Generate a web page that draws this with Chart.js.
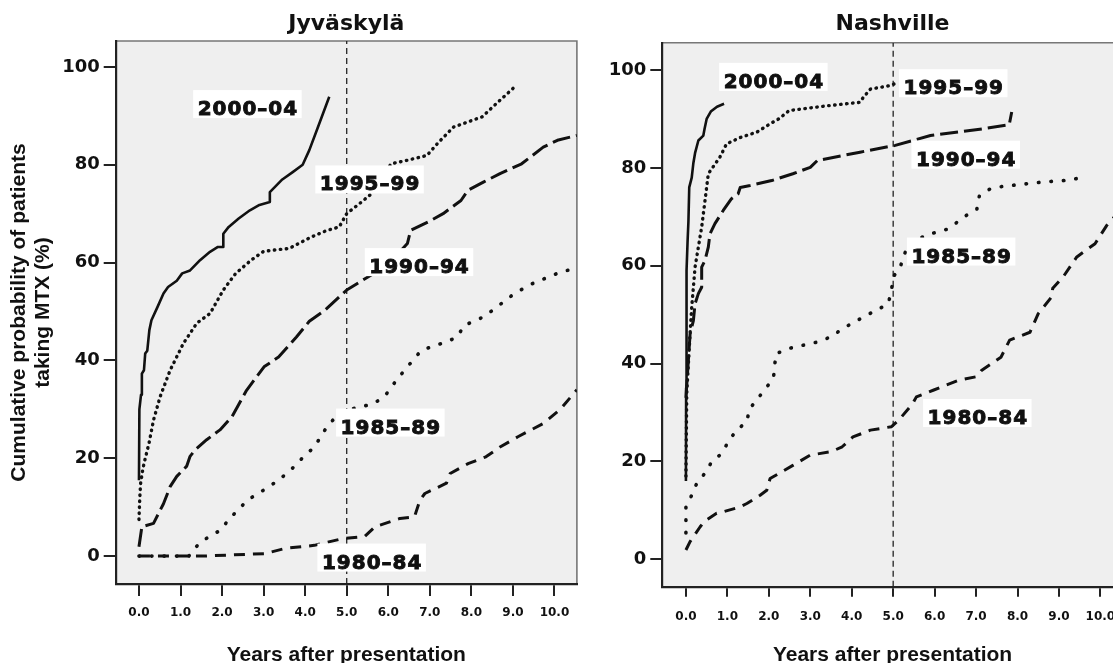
<!DOCTYPE html>
<html>
<head>
<meta charset="utf-8">
<title>Cumulative probability of patients taking MTX</title>
<script src="https://cdn.jsdelivr.net/npm/chart.js@4.4.1/dist/chart.umd.min.js"></script>
<style>
  html, body { margin: 0; padding: 0; overflow: hidden; background: #fff; }
  #wrap { position: relative; width: 1113px; height: 663px; overflow: hidden; }
  #left { position: absolute; left: 0; top: 0; }
  #right { position: absolute; left: 600px; top: 0; }
</style>
</head>
<body>
<div id="wrap">
  <canvas id="left" width="590" height="663"></canvas>
  <canvas id="right" width="530" height="663"></canvas>
</div>
<script>
// tick values
const xTicks = [0, 1, 2, 3, 4, 5, 6, 7, 8, 9, 10];
const yTicks = [0, 20, 40, 60, 80, 100];
const refX = 5;

const cohorts = ['2000–04', '1995–99', '1990–94', '1985–89', '1980–84'];

// Jyväskylä curves, [years, %]
const jyv2000 = [[0,15.5],[0.01,30],[0.05,33],[0.07,37.3],[0.12,38],[0.15,41.4],[0.2,42],[0.25,46.2],[0.3,48.2],
  [0.45,51],[0.59,53.7],[0.7,55],[0.91,56.3],[1.04,57.8],[1.23,58.4],[1.47,60.5],[1.71,62.2],[1.9,63.2],[2.03,63.2],
  [2.03,65.9],[2.16,67.3],[2.4,69],[2.67,70.7],[2.9,71.8],[3.15,72.4],[3.15,74.4],[3.45,77],[3.7,78.5],[3.94,80],
  [4.1,83],[4.3,87.5],[4.58,93.9]];
const jyv1995 = [[0,7.5],[0.02,12],[0.04,14.9],[0.09,17.6],[0.12,18.9],[0.24,23],[0.35,27.8],[0.51,32.6],[0.75,38],
  [1.07,43.5],[1.39,47.6],[1.71,49.6],[2.03,54.4],[2.33,57.8],[2.7,60.5],[3.0,62.3],[3.19,62.5],[3.62,62.9],[4.14,65.2],
  [4.5,66.5],[4.82,67.3],[5.0,70],[5.3,72],[5.6,74.1],[5.85,77.5],[6.07,80.2],[6.5,81],[6.93,81.9],[7.2,84.5],
  [7.57,87.7],[8.26,89.8],[8.6,92.5],[9.04,95.9]];
const jyv1990 = [[0,1.9],[0.07,6],[0.35,6.7],[0.47,8.7],[0.59,10.7],[0.75,14.2],[0.91,16.3],[1.15,18.4],[1.23,20.4],
  [1.35,21.7],[1.63,23.8],[1.95,25.8],[2.24,28.5],[2.59,33.9],[3.01,38.7],[3.36,40.7],[3.79,44.8],[4.1,48],[4.48,50.3],
  [5.0,54.4],[5.4,56.5],[5.77,58.4],[6.2,61.5],[6.46,63.9],[6.54,66.6],[7.0,68.5],[7.32,70],[7.75,72.7],[7.92,74.8],
  [8.3,76.5],[8.69,78.2],[9.21,80.2],[9.73,83.6],[10.07,85],[10.54,86]];
const jyv1985 = [[0,0],[1.2,0],[1.3,1.2],[1.5,3],[1.8,4.5],[2.0,5.5],[2.15,7.5],[2.4,9.5],[2.6,11.4],[3.0,13.5],
  [3.36,15.5],[3.7,18],[3.96,20.3],[4.22,22.3],[4.52,26.4],[4.74,28.5],[4.9,29.5],[5.3,30.5],[5.6,31],[5.9,32.5],
  [6.2,36],[6.46,38.7],[6.8,42.1],[7.4,43.8],[7.66,44.8],[7.83,47.2],[8.2,48.5],[8.52,50.3],[9.04,53.7],[9.47,55.7],
  [10.07,57.8],[10.54,59]];
const jyv1980 = [[0,0],[1.5,0],[3.02,0.5],[3.53,1.6],[4.22,2.2],[4.91,3.6],[5.43,4],[5.68,6],[6.28,7.7],[6.63,8],
  [6.76,11.4],[6.88,12.8],[7.4,14.9],[7.49,16.9],[7.92,18.9],[8.35,20.3],[8.69,22.3],[9.12,24.4],[9.73,27.1],
  [10.14,30],[10.54,34]];

// Nashville curves, [years, %]
const nas2000 = [[0,16],[0.005,35],[0.01,47],[0.02,59],[0.04,65],[0.06,69],[0.08,76],[0.14,78],[0.18,81],[0.22,83],
  [0.3,85.6],[0.42,86.6],[0.45,88],[0.5,90],[0.6,91.5],[0.75,92.5],[0.92,93.1]];
const nas1995 = [[0,17],[0.02,34],[0.1,46.1],[0.14,51.6],[0.18,55.6],[0.22,59.7],[0.3,63.8],[0.38,67.9],[0.46,73.3],
  [0.54,78.8],[0.82,82.2],[0.98,84.9],[1.31,86.2],[1.71,87.3],[2.03,89],[2.24,90],[2.49,91.7],[3.43,92.7],[4.2,93.4],
  [4.28,94.4],[4.45,96.1],[4.92,96.8],[5.13,97.5]];
const nas1990 = [[0,33],[0.1,46],[0.18,48.8],[0.22,52.2],[0.3,54.3],[0.38,55.6],[0.38,59.7],[0.46,61.1],[0.54,63.8],
  [0.58,66.5],[0.7,68.6],[0.9,71.3],[1.1,73.7],[1.26,74.7],[1.31,76],[1.55,76.4],[2.07,77.4],[2.58,78.8],[3.0,80.1],
  [3.17,81.5],[4.2,83.2],[5.05,84.6],[5.9,86.6],[7.17,88],[7.8,88.8],[7.86,91.4]];
const nas1985 = [[0,5.4],[0,10.7],[0.14,13.1],[0.26,15.5],[0.46,17.6],[0.62,19.9],[0.86,21.6],[1.02,24],[1.22,26.4],
  [1.47,28.1],[1.53,30.7],[1.72,32.7],[1.92,34.9],[2.11,36.9],[2.17,42],[2.49,43.1],[3.17,44.4],[3.51,45.5],[3.77,47.1],
  [4.28,49.5],[4.88,52.2],[4.96,55],[5.0,57.7],[5.17,59.7],[5.26,62.1],[5.39,64.8],[5.9,66.5],[6.32,67.5],[6.77,70.3],
  [7.02,71.6],[7.08,74.3],[7.34,75.7],[7.63,76.2],[8.6,77.1],[9.27,77.5],[9.62,78.2]];
const nas1980 = [[0,1.9],[0.1,3.6],[0.34,6.6],[0.44,7.7],[0.74,9.4],[0.9,9.7],[1.3,10.7],[1.47,11.4],[1.79,13.1],
  [1.95,14.1],[2.03,16.5],[2.58,19.2],[3.0,21.3],[3.51,22],[3.77,23],[4.03,25],[4.45,26.4],[4.96,27.1],[5.13,28.4],
  [5.47,31.8],[5.56,33.2],[5.98,34.6],[6.58,36.6],[7.0,37.3],[7.13,38.6],[7.6,41.3],[7.81,44.8],[8.3,46.4],[8.5,50.2],
  [8.82,53.6],[8.85,55.4],[9.1,57.7],[9.43,61.8],[9.87,64.5],[10.15,68.2],[10.3,69.6],[10.54,72]];

// where the cohort labels sit (data units, box centre)
const jyvLabelAt = [[2.61,92.4],[5.55,77.0],[6.74,60.1],[6.05,27.3],[5.6,-0.3]];
const nasLabelAt = [[2.11,98.6],[6.45,97.3],[6.75,82.7],[6.64,62.9],[7.03,29.9]];

// line look per cohort
const lineLook = [
  { dash: [], width: 2.6, cap: 'butt' },
  { dash: [0.5, 5.5], width: 3.4, cap: 'round' },
  { dash: [18, 6], width: 3, cap: 'butt' },
  { dash: [0.5, 12], width: 3.6, cap: 'round' },
  { dash: [11, 8], width: 3, cap: 'butt' }
];

const INK = '#111';

const panelDecor = {
  id: 'panelDecor',
  beforeDraw(chart) {
    const { ctx, chartArea: a } = chart;
    ctx.save();
    ctx.fillStyle = '#efefef';
    ctx.fillRect(a.left, a.top, a.right - a.left, a.bottom - a.top);
    ctx.strokeStyle = '#777';
    ctx.lineWidth = 1.6;
    ctx.beginPath();
    ctx.moveTo(a.left, a.top);
    ctx.lineTo(a.right, a.top);
    ctx.lineTo(a.right, a.bottom);
    ctx.stroke();
    ctx.restore();
  },
  afterDatasetsDraw(chart, args, opts) {
    const { ctx, scales: { x, y } } = chart;
    ctx.save();
    ctx.font = 'bold 20px "DejaVu Sans"';
    ctx.letterSpacing = '1px';
    ctx.textAlign = 'center';
    ctx.textBaseline = 'alphabetic';
    opts.labels.forEach(l => {
      const cx = x.getPixelForValue(l.x);
      const cy = y.getPixelForValue(l.y);
      const w = ctx.measureText(l.text).width + 8;
      ctx.fillStyle = '#fff';
      ctx.fillRect(cx - w / 2, cy - 14, w, 28);
      ctx.fillStyle = INK;
      ctx.strokeStyle = INK;
      ctx.lineWidth = 0.9;
      ctx.fillText(l.text, cx + 0.5, cy + 11);
      ctx.strokeText(l.text, cx + 0.5, cy + 11);
    });
    ctx.restore();
  }
};

function toPoints(pairs) {
  return pairs.map(p => ({ x: p[0], y: p[1] }));
}

function buildPanel(canvasId, title, curves, labelAt, g) {
  const datasets = curves.map((c, i) => ({
    label: cohorts[i],
    data: toPoints(c),
    borderColor: INK,
    borderWidth: lineLook[i].width,
    borderDash: lineLook[i].dash,
    borderCapStyle: lineLook[i].cap,
    borderJoinStyle: 'round',
    pointRadius: 0,
    tension: 0,
    fill: false
  }));
  // dashed reference line at 5 years
  datasets.push({
    label: 'ref',
    data: [{ x: refX, y: g.yMin }, { x: refX, y: g.yMax }],
    borderColor: '#222',
    borderWidth: 1.3,
    borderDash: [6, 4],
    pointRadius: 0,
    fill: false
  });

  const labels = labelAt.map((p, i) => ({ text: cohorts[i], x: p[0], y: p[1] }));

  return new Chart(document.getElementById(canvasId), {
    type: 'line',
    data: { datasets },
    plugins: [panelDecor],
    options: {
      responsive: false,
      animation: false,
      layout: { padding: { left: 0, right: g.padRight, top: 0, bottom: 0 } },
      plugins: {
        legend: { display: false },
        tooltip: { enabled: false },
        title: {
          display: true,
          text: title,
          fullSize: false,
          color: INK,
          font: { family: 'DejaVu Sans', size: 22, weight: 'bold', lineHeight: 1.2 },
          padding: { top: g.titleTop, bottom: g.titleBottom }
        },
        panelDecor: { labels }
      },
      scales: {
        x: {
          type: 'linear',
          min: g.xMin,
          max: g.xMax,
          afterBuildTicks: s => { s.ticks = xTicks.map(v => ({ value: v })); },
          afterFit: s => { s.height = g.xHeight; },
          ticks: {
            autoSkip: false,
            maxRotation: 0,
            padding: g.xTickPad,
            color: INK,
            font: { family: 'DejaVu Sans', size: 12, weight: 'bold' },
            callback: v => v.toFixed(1)
          },
          grid: { drawOnChartArea: false, tickLength: g.xTickLen, color: '#222', lineWidth: 2 },
          border: { color: '#222', width: 2.2 },
          title: {
            display: true,
            text: 'Years after presentation',
            color: INK,
            font: { family: 'Liberation Sans', size: 21, weight: 'bold', lineHeight: 0.7 },
            padding: 0
          }
        },
        y: {
          type: 'linear',
          min: g.yMin,
          max: g.yMax,
          afterBuildTicks: s => { s.ticks = yTicks.map(v => ({ value: v })); },
          afterFit: s => { s.width = g.yWidth; },
          ticks: {
            padding: 4,
            color: INK,
            font: { family: 'DejaVu Sans', size: 18, weight: 'bold' },
            callback: v => String(v)
          },
          grid: { drawOnChartArea: false, tickLength: 12, color: '#222', lineWidth: 2 },
          border: { color: '#222', width: 2.2 },
          title: {
            display: g.yTitle,
            text: ['Cumulative probability of patients', 'taking MTX (%)'],
            color: INK,
            font: { family: 'Liberation Sans', size: 21, weight: 'bold', lineHeight: 1.17 },
            padding: { top: 6.7, bottom: 0 }
          }
        }
      }
    }
  });
}

buildPanel('left', 'Jyväskylä', [jyv2000, jyv1995, jyv1990, jyv1985, jyv1980], jyvLabelAt, {
  xMin: -0.56, xMax: 10.54, yMin: -5.7, yMax: 105.3,
  padRight: 13.1, yWidth: 115.7, xHeight: 79,
  titleTop: 11.2, titleBottom: 3.4,
  xTickLen: 12, xTickPad: 10, yTitle: true
});

buildPanel('right', 'Nashville', [nas2000, nas1995, nas1990, nas1985, nas1980], nasLabelAt, {
  xMin: -0.57, xMax: 10.54, yMin: -5.6, yMax: 105.58,
  padRight: 7.2, yWidth: 62.3, xHeight: 76.3,
  titleTop: 11.2, titleBottom: 5.1,
  xTickLen: 10, xTickPad: 13, yTitle: false
});
</script>
</body>
</html>
